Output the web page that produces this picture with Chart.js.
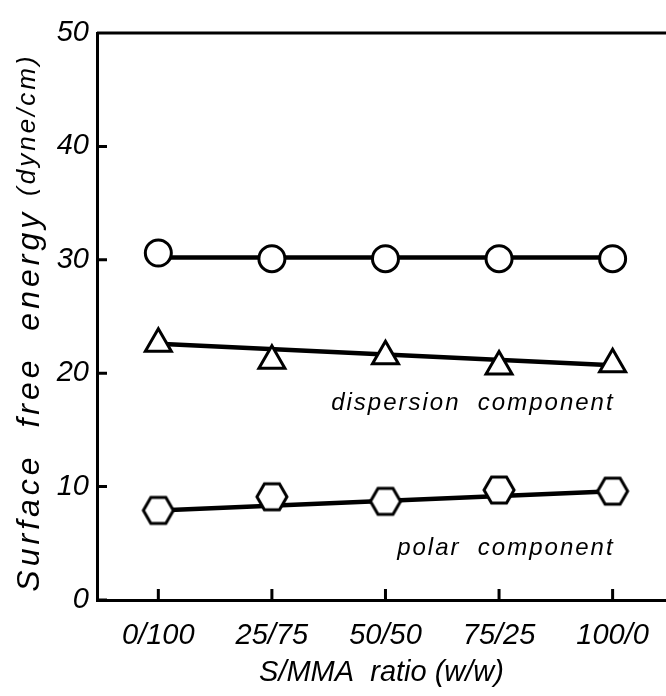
<!DOCTYPE html>
<html>
<head>
<meta charset="utf-8">
<script src="https://cdn.jsdelivr.net/npm/chart.js@4/dist/chart.umd.min.js"></script>
<style>
  html, body { margin: 0; padding: 0; background: #fff; }
  #wrap { width: 666px; height: 696px; position: relative; }
</style>
</head>
<body>
<div id="wrap"><canvas id="chart"></canvas></div>
<script>
// ratio categories (S/MMA, w/w)
const ratios = ['0/100', '25/75', '50/50', '75/25', '100/0'];
const yTicks = [0, 10, 20, 30, 40, 50];

// measured points
const totalEnergy = [30.6, 30.1, 30.1, 30.1, 30.1];
const dispersion = [22.6, 21.1, 21.5, 20.6, 20.8];
const polar = [7.9, 9.1, 8.7, 9.7, 9.6];

// drawn trend lines (first / last category)
const totalFit = [30.2, 30.2];
const dispersionFit = [22.6, 20.7];
const polarFit = [7.9, 9.6];

const FONT = "'Liberation Sans', 'DejaVu Sans', sans-serif";

// hexagon marker
function makeHexagon(r, lw) {
    const size = Math.ceil(r * 2 + lw * 2);
    const c = document.createElement('canvas');
    c.width = size;
    c.height = size;
    const g = c.getContext('2d');
    g.beginPath();
    for (let i = 0; i < 6; i++) {
        const a = i * Math.PI / 3;
        const px = size / 2 + r * Math.cos(a);
        const py = size / 2 + r * Math.sin(a);
        if (i === 0) g.moveTo(px, py); else g.lineTo(px, py);
    }
    g.closePath();
    g.fillStyle = '#fff';
    g.fill();
    g.lineWidth = lw;
    g.strokeStyle = '#000';
    g.stroke();
    return c;
}
const hexagon = makeHexagon(15, 3);

const toPoints = arr => arr.map((v, i) => ({ x: i, y: v }));
const fitPoints = arr => [{ x: 0, y: arr[0] }, { x: ratios.length - 1, y: arr[1] }];

const markerBase = {
    showLine: false,
    borderColor: '#000',
    backgroundColor: '#fff',
    pointBorderWidth: 3,
    pointBackgroundColor: '#fff',
    pointBorderColor: '#000',
    order: 0
};
const fitBase = {
    showLine: true,
    borderColor: '#000',
    borderWidth: 4.5,
    pointRadius: 0,
    fill: false,
    order: 1
};

// inward ticks, top frame, y title, labels
const decorations = {
    id: 'decorations',
    afterDraw(chart) {
        const { ctx, chartArea, scales } = chart;
        const x = scales.x, y = scales.y;
        ctx.save();
        ctx.strokeStyle = '#000';
        ctx.lineWidth = 3;
        ctx.beginPath();
        ctx.moveTo(chartArea.left, chartArea.top);
        ctx.lineTo(chartArea.right, chartArea.top);
        yTicks.forEach(t => {
            const py = y.getPixelForValue(t);
            ctx.moveTo(chartArea.left, py);
            ctx.lineTo(chartArea.left + 10, py);
        });
        ratios.forEach((_, i) => {
            const px = x.getPixelForValue(i);
            ctx.moveTo(px, chartArea.bottom);
            ctx.lineTo(px, chartArea.bottom - 11);
        });
        ctx.stroke();

        // component labels
        ctx.fillStyle = '#000';
        ctx.font = `italic 24px ${FONT}`;
        ctx.letterSpacing = '2px';
        ctx.textAlign = 'right';
        ctx.textBaseline = 'middle';
        const rx = x.getPixelForValue(ratios.length - 1) + 2;
        ctx.fillText('dispersion  component', rx, y.getPixelForValue(17.3));
        ctx.fillText('polar  component', rx, y.getPixelForValue(4.6));

        // y axis title
        ctx.translate(30, (chartArea.top + chartArea.bottom) / 2 + 6);
        ctx.rotate(-Math.PI / 2);
        const main = 'Surface  free  energy ';
        const unit = '(dyne/cm)';
        ctx.letterSpacing = '4px';
        ctx.font = `italic 32px ${FONT}`;
        const w1 = ctx.measureText(main).width;
        ctx.letterSpacing = '3px';
        ctx.font = `italic 26px ${FONT}`;
        const w2 = ctx.measureText(unit).width;
        const start = -(w1 + w2) / 2;
        ctx.textAlign = 'left';
        ctx.letterSpacing = '4px';
        ctx.font = `italic 32px ${FONT}`;
        ctx.fillText(main, start, 0);
        ctx.letterSpacing = '3px';
        ctx.font = `italic 26px ${FONT}`;
        ctx.fillText(unit, start + w1, -2);
        ctx.restore();
    }
};

new Chart(document.getElementById('chart'), {
    type: 'line',
    data: {
        datasets: [
            { ...markerBase, label: 'total', data: toPoints(totalEnergy), pointStyle: 'circle', pointRadius: 13 },
            { ...markerBase, label: 'dispersion', data: toPoints(dispersion), pointStyle: 'triangle', pointRadius: 15 },
            { ...markerBase, label: 'polar', data: toPoints(polar), pointStyle: hexagon },
            { ...fitBase, label: 'total fit', data: fitPoints(totalFit) },
            { ...fitBase, label: 'dispersion fit', data: fitPoints(dispersionFit) },
            { ...fitBase, label: 'polar fit', data: fitPoints(polarFit) }
        ]
    },
    options: {
        responsive: true,
        maintainAspectRatio: false,
        animation: false,
        layout: { autoPadding: false, padding: { top: 33, right: 0, bottom: 0, left: 0 } },
        plugins: {
            legend: { display: false },
            tooltip: { enabled: false }
        },
        scales: {
            x: {
                type: 'linear',
                min: -0.54,
                max: 4.47,
                afterFit(scale) {
                    scale.height = 96;
                    scale.paddingLeft = 0;
                    scale.paddingRight = 0;
                },
                afterBuildTicks(scale) { scale.ticks = ratios.map((_, i) => ({ value: i })); },
                grid: { display: false, drawTicks: false },
                border: { display: true, color: '#000', width: 3 },
                ticks: {
                    color: '#000',
                    padding: 19,
                    maxRotation: 0,
                    font: { family: FONT, size: 29, style: 'italic' },
                    callback: (v) => ratios[v]
                },
                title: {
                    display: true,
                    text: 'S/MMA  ratio (w/w)',
                    color: '#000',
                    padding: { top: 0, bottom: 6 },
                    font: { family: FONT, size: 29, style: 'italic' }
                }
            },
            y: {
                min: 0,
                max: 50,
                afterFit(scale) {
                    scale.width = 97;
                    scale.paddingTop = 0;
                    scale.paddingBottom = 0;
                },
                afterBuildTicks(scale) { scale.ticks = yTicks.map(v => ({ value: v })); },
                grid: { display: false, drawTicks: false },
                border: { display: true, color: '#000', width: 3 },
                ticks: {
                    color: '#000',
                    padding: 8,
                    font: { family: FONT, size: 29, style: 'italic' }
                }
            }
        }
    },
    plugins: [decorations]
});
</script>
</body>
</html>
